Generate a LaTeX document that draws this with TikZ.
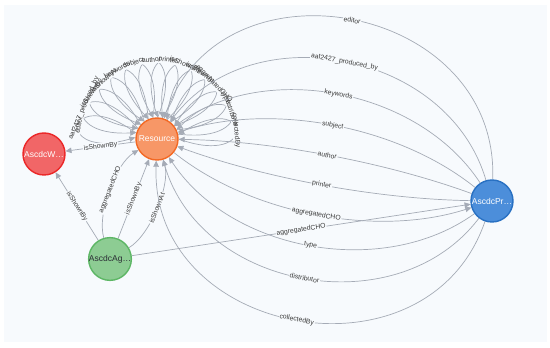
\documentclass[tikz,border=0pt]{standalone}
\usepackage{fontspec}
\setmainfont{Liberation Sans}
\usetikzlibrary{arrows.meta,calc}
\definecolor{bgc}{HTML}{F7FAFD}
\definecolor{edgec}{HTML}{A5ABB6}
\definecolor{lblc}{HTML}{3A3A3A}
\definecolor{resfill}{HTML}{F79767}
\definecolor{resdraw}{HTML}{F36924}
\definecolor{wfill}{HTML}{F16667}
\definecolor{wdraw}{HTML}{EB2728}
\definecolor{agfill}{HTML}{8DCC93}
\definecolor{agdraw}{HTML}{5DB665}
\definecolor{prfill}{HTML}{4C8EDA}
\definecolor{prdraw}{HTML}{2870C2}
\definecolor{agtext}{HTML}{2A2C34}
\pgfdeclarelayer{back}
\pgfdeclarelayer{edges}
\pgfsetlayers{back,edges,main}
\tikzset{
  gnode/.style={circle, minimum size=42pt, inner sep=0pt, line width=1.4pt,
    font=\fontsize{8.5}{9}\selectfont},
  edge/.style={draw=edgec, line width=0.7pt, -{Triangle[width=5.5pt,length=6pt]}},
  lbl/.style={font=\fontsize{6.8}{7}\selectfont, text=lblc, fill=bgc, inner sep=0.8pt},
  lblfill/.style={lbl, text opacity=0},
  lbltext/.style={font=\fontsize{6.8}{7}\selectfont, text=lblc, inner sep=0.8pt},
}
\newcommand{\cedge}[7]{\draw[edge] (#1) .. controls ($(#1)!#3!(#2)!#4!#5:(#2)$) and ($(#2)!#3!(#1)!#4!#6:(#1)$) .. (#2) node[lbl, sloped, pos=0.5] {#7};}
\def\looplist{170/editor,157/aat2427\_produced\_by,145/isShownBy,132/isShownAt,120/keywords,107/subject,94/author,82/printer,69/isShownBy,57/isShownAt,44/aggregatedCHO,31/type,19/distributor,6/collectedBy}
\begin{document}
\begin{tikzpicture}[x=1pt,y=1pt]
\useasboundingbox (0,0) rectangle (550,348);
\begin{pgfonlayer}{back}
\fill[bgc] (4,6) rectangle (547,343);
\end{pgfonlayer}

\node[gnode, fill=resfill, draw=resdraw, text=white] (res) at (157,209) {Resource};
\node[gnode, fill=wfill, draw=wdraw, text=white] (w) at (44,194) {AscdcW…};
\node[gnode, fill=agfill, draw=agdraw, text=agtext] (ag) at (110,89) {AscdcAg…};
\node[gnode, fill=prfill, draw=prdraw, text=white] (pr) at (492,147) {AscdcPr…};

\begin{pgfonlayer}{edges}
% self loops on Resource
\foreach \ang/\txt [count=\i] in \looplist {
  \pgfmathtruncatemacro\s{\ang-6}
  \pgfmathtruncatemacro\e{\ang+6}
  \draw[edge] (res.\s) .. controls +(\ang-26:86pt) and +(\ang+26:86pt) .. (res.\e)
    coordinate[pos=0.5] (lp\i);
}
\foreach \ang/\txt [count=\i] in \looplist {
  \node[lblfill, rotate=\ang-90] at (lp\i) {\txt};
}
\foreach \ang/\txt [count=\i] in \looplist {
  \node[lbltext, rotate=\ang-90] at (lp\i) {\txt};
}

% straight edges
\draw[edge] (res) -- (w) node[lbl, sloped, midway] {isShownBy};
\draw[edge] (ag) -- (w) node[lbl, sloped, midway] {isShownBy};
\draw[edge] (ag) -- (res) node[lbl, sloped, midway] {isShownBy};
\draw[edge] (ag) -- (pr) node[lbl, sloped, midway] {aggregatedCHO};

% curved edges Ag -> Resource
\cedge{ag}{res}{0.29}{29pt}{90}{-90}{aggregatedCHO}
\cedge{ag}{res}{0.29}{29pt}{-90}{90}{isShownAt}

% curved edges AscdcPr -> Resource
\cedge{pr}{res}{0.086}{196pt}{-90}{90}{editor}
\cedge{pr}{res}{0.207}{140pt}{-90}{90}{aat2427\_produced\_by}
\cedge{pr}{res}{0.272}{97pt}{-90}{90}{keywords}
\cedge{pr}{res}{0.312}{57pt}{-90}{90}{subject}
\cedge{pr}{res}{0.331}{19pt}{-90}{90}{author}
\cedge{pr}{res}{0.331}{19pt}{90}{-90}{printer}
\cedge{pr}{res}{0.272}{97pt}{90}{-90}{type}
\cedge{pr}{res}{0.207}{140pt}{90}{-90}{distributor}
\cedge{pr}{res}{0.086}{196pt}{90}{-90}{collectedBy}

% Resource -> AscdcPr
\cedge{res}{pr}{0.312}{57pt}{-90}{90}{aggregatedCHO}
\end{pgfonlayer}
\end{tikzpicture}
\end{document}
